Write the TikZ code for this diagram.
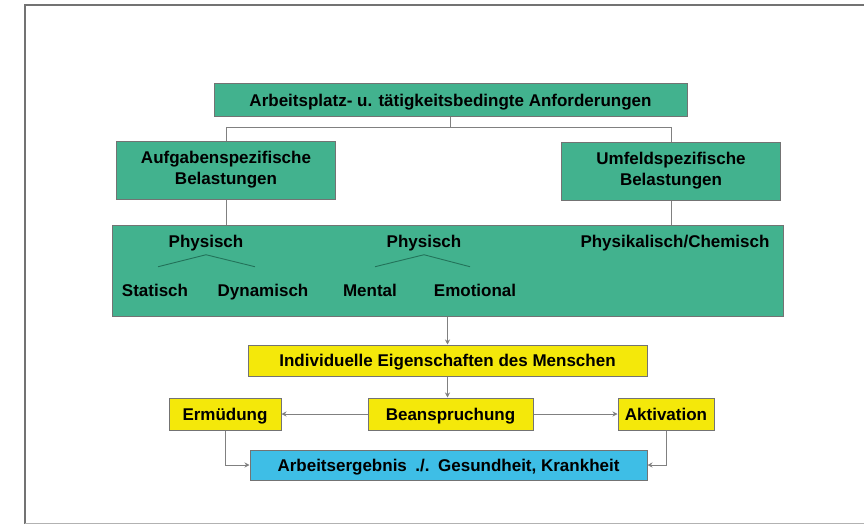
\documentclass[tikz,border=0pt]{standalone}
\usepackage{fontspec}
\setmainfont{Liberation Sans}
\usetikzlibrary{arrows.meta}
\definecolor{boxgreen}{RGB}{66,178,142}
\definecolor{boxyellow}{RGB}{244,232,10}
\definecolor{boxblue}{RGB}{62,190,230}
\definecolor{treegreen}{RGB}{35,115,90}
\tikzset{
  box/.style={draw=black!55, line width=1pt, inner sep=0pt, align=center,
    font=\bfseries\fontsize{17}{21}\selectfont},
  zeile/.style={text height=12.2pt, text depth=0pt},
  gruen/.style={box, fill=boxgreen},
  gelb/.style={box, zeile, fill=boxyellow},
  blau/.style={box, zeile, fill=boxblue},
  wort/.style={inner sep=0pt, anchor=base, font=\bfseries\fontsize{17}{21}\selectfont},
  verb/.style={draw=black!50, line width=1pt},
  pfeil/.style={verb, -{Stealth[length=5pt,width=5pt]}},
  ast/.style={draw=treegreen, line width=0.9pt}
}
\begin{document}
\begin{tikzpicture}[x=1pt,y=-1pt]
  \useasboundingbox (0,0) rectangle (864,524);
  % Rahmen
  \draw[black!55, line width=1.2pt] (864,5) -- (25,5) -- (25,524);
  \draw[black!30, line width=1pt] (25,523) -- (864,523);

  % Anforderungen und Belastungen
  \node[gruen, zeile, minimum width=473pt, minimum height=33pt] (anf) at (450.5,100.5)
    {Arbeitsplatz- u. tätigkeitsbedingte Anforderungen};
  \node[gruen, minimum width=219pt, minimum height=58pt] (aufg) at (226,170)
    {Aufgabenspezifische\\Belastungen};
  \node[gruen, minimum width=219pt, minimum height=58pt] (umf) at (671,171)
    {Umfeldspezifische\\Belastungen};
  \node[gruen, minimum width=671pt, minimum height=91pt] (bel) at (447.5,270.5) {};

  \node[wort] (physA) at (206,247) {Physisch};
  \node[wort] (physB) at (424,247) {Physisch};
  \node[wort] (chem) at (675,247) {Physikalisch/Chemisch};
  \node[wort] (statisch) at (155,296) {Statisch};
  \node[wort] (dynamisch) at (263,296) {Dynamisch};
  \node[wort] (mental) at (370,296) {Mental};
  \node[wort] (emotional) at (475,296) {Emotional};

  \draw[ast] ([xshift=-48pt,yshift=-16pt]physA.south) -- ([yshift=-4pt]physA.south)
    -- ([xshift=49pt,yshift=-16pt]physA.south);
  \draw[ast] ([xshift=-49pt,yshift=-16pt]physB.south) -- ([yshift=-4pt]physB.south)
    -- ([xshift=46pt,yshift=-16pt]physB.south);

  % Mensch und Folgen
  \node[gelb, minimum width=399pt, minimum height=31pt] (indiv) at (447.5,360.5)
    {Individuelle Eigenschaften des Menschen};
  \node[gelb, minimum width=165pt, minimum height=32pt] (bean) at (450.5,414)
    {Beanspruchung};
  \node[gelb, minimum width=112pt, minimum height=32pt] (erm) at (225,414)
    {Ermüdung};
  \node[gelb, minimum width=96pt, minimum height=32pt] (akt) at (666,414)
    {Aktivation};
  \node[blau, minimum width=397pt, minimum height=30pt] (arb) at (448.5,465)
    {Arbeitsergebnis\enspace./.\enspace Gesundheit, Krankheit};

  % Verbindungen
  \draw[verb] (anf.south) -- ++(0,10) coordinate (gabel);
  \draw[verb] (aufg.north) |- (gabel) -| (umf.north);
  \draw[verb] (aufg.south) -- (aufg.south |- bel.north);
  \draw[verb] (umf.south) -- (umf.south |- bel.north);
  \draw[pfeil] (bel.south) -- (indiv.north);
  \draw[pfeil] (indiv.south) -- (indiv.south |- bean.north);
  \draw[pfeil] (bean.west) -- (erm.east);
  \draw[pfeil] (bean.east) -- (akt.west);
  \draw[pfeil] (erm.south) |- (arb.west);
  \draw[pfeil] (akt.south) |- (arb.east);
\end{tikzpicture}
\end{document}
